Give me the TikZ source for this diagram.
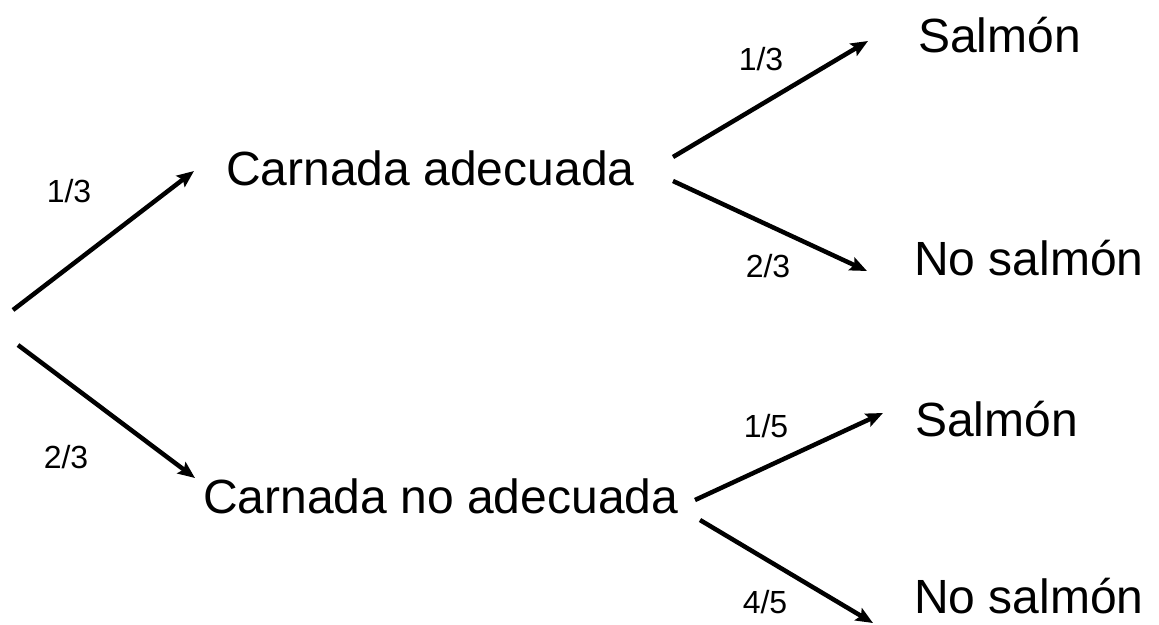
\documentclass[tikz,border=0pt]{standalone}
\usepackage{fontspec}
\setmainfont{Liberation Sans}
\usetikzlibrary{arrows.meta}
\begin{document}
\begin{tikzpicture}[x=1pt,y=-1pt,
  lbl/.style={inner sep=0pt,anchor=base west,font=\fontsize{48}{56}\selectfont},
  prob/.style={inner sep=0pt,anchor=base,font=\fontsize{32}{38}\selectfont},
  branch/.style={line width=4.5pt,-{Stealth[length=17pt,width=14pt,inset=3pt]}}]
\useasboundingbox (0,0) rectangle (1159,624);
% texts
\node[lbl] (ca) at (226,185) {Carnada adecuada};
\node[lbl] (cn) at (203,513) {Carnada no adecuada};
\node[lbl] (s1) at (918,52) {Salmón};
\node[lbl] (n1) at (914,275) {No salmón};
\node[lbl] (s2) at (915,436) {Salmón};
\node[lbl] (n2) at (914,613) {No salmón};
% probabilities
\node[prob] (p1) at (69,202) {1/3};
\node[prob] (p2) at (66,468) {2/3};
\node[prob] (p3) at (761,70) {1/3};
\node[prob] (p4) at (768,277) {2/3};
\node[prob] (p5) at (766,437) {1/5};
\node[prob] (p6) at (765,613) {4/5};
% connector end points
\coordinate (r1) at (13,310);
\coordinate (r2) at (18,345);
\coordinate (e1) at (194,171);
\coordinate (e2) at (195,478);
\coordinate (a1) at (673,157);
\coordinate (a2) at (673,181);
\coordinate (e3) at (868,41);
\coordinate (e4) at (867,271);
\coordinate (b1) at (695,500);
\coordinate (b2) at (700,520);
\coordinate (e5) at (883,413);
\coordinate (e6) at (873,623);
% branches
\draw[branch] (r1) -- (e1);
\draw[branch] (r2) -- (e2);
\draw[branch] (a1) -- (e3);
\draw[branch] (a2) -- (e4);
\draw[branch] (b1) -- (e5);
\draw[branch] (b2) -- (e6);
\end{tikzpicture}
\end{document}
